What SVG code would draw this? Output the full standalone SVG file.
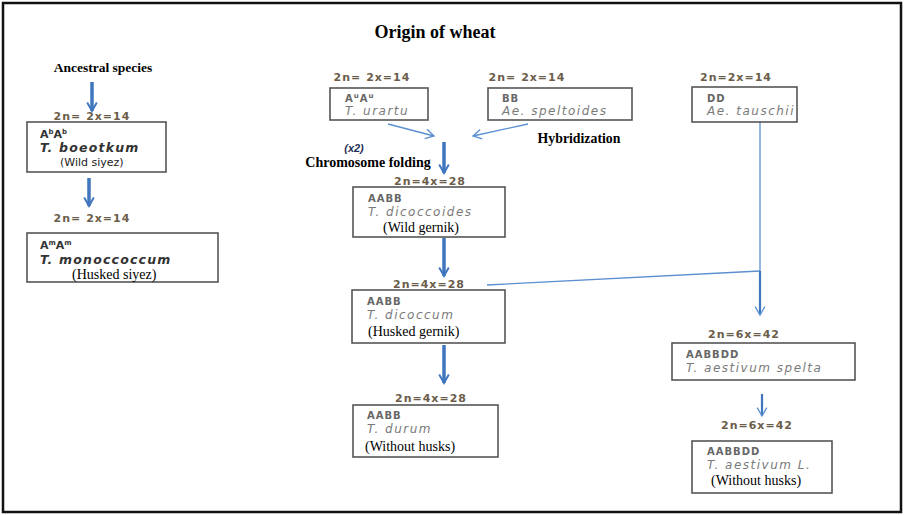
<svg xmlns="http://www.w3.org/2000/svg" width="904" height="515" viewBox="0 0 904 515">
<defs>
<style>
.frame{fill:#fff;stroke:#111;stroke-width:2.5}
.box{fill:#fff;stroke:#555;stroke-width:1.6}
.ser{font-family:"Liberation Serif",serif;fill:#000;font-size:14px}
.serb{font-family:"Liberation Serif",serif;font-weight:bold;fill:#000}
.ploid{font-family:"DejaVu Sans",sans-serif;font-weight:bold;font-size:11px;letter-spacing:1px;fill:#6b5d4a}
.gen{font-family:"DejaVu Sans",sans-serif;font-weight:bold;font-size:10px;letter-spacing:1px;fill:#666}
.sp{font-family:"DejaVu Sans",sans-serif;font-style:italic;font-size:12px;letter-spacing:1.5px;fill:#7a7a7a}
.gen1{font-family:"DejaVu Sans",sans-serif;font-weight:bold;font-size:11px;fill:#333}
.sp1{font-family:"DejaVu Sans",sans-serif;font-weight:bold;font-style:italic;font-size:12.5px;letter-spacing:1.2px;fill:#333}
.thick{stroke:#3f76bd;stroke-width:3.5;fill:none}
.thin{stroke:#5b8fd0;stroke-width:1.3;fill:none}
.mid{stroke:#3f76bd;stroke-width:2.2;fill:none}
</style>
<marker id="vhT" viewBox="0 0 20 20" refX="17" refY="10" markerWidth="12" markerHeight="12" orient="auto" markerUnits="userSpaceOnUse">
<polyline points="3,2 17,10 3,18" fill="none" stroke="#3f76bd" stroke-width="3.2"/>
</marker>
<marker id="vhS" viewBox="0 0 20 20" refX="17" refY="10" markerWidth="12" markerHeight="12" orient="auto" markerUnits="userSpaceOnUse">
<polyline points="3,2 17,10 3,18" fill="none" stroke="#5b8fd0" stroke-width="2.2"/>
</marker>
</defs>
<rect class="frame" x="3" y="3" width="898" height="509"/>
<text class="serb" x="435" y="38" font-size="18" text-anchor="middle">Origin of wheat</text>
<text class="serb" x="103" y="72" font-size="13.5" text-anchor="middle">Ancestral species</text>
<text class="serb" x="579" y="143" font-size="13.8" text-anchor="middle">Hybridization</text>
<text x="354" y="152" font-family="Liberation Sans,sans-serif" font-weight="bold" font-style="italic" font-size="11" fill="#1f2f55" text-anchor="middle">(x2)</text>
<text class="serb" x="368" y="167" font-size="14" text-anchor="middle">Chromosome folding</text>

<g id="connectors">
<line class="thick" x1="92" y1="82" x2="92" y2="111" marker-end="url(#vhT)"/>
<line class="thick" x1="89" y1="178" x2="89" y2="206" marker-end="url(#vhT)"/>
<line class="thin" x1="388" y1="124" x2="434" y2="136" marker-end="url(#vhS)"/>
<line class="thin" x1="528" y1="124" x2="473" y2="136" marker-end="url(#vhS)"/>
<line class="thick" x1="444" y1="142" x2="444" y2="173" marker-end="url(#vhT)"/>
<line class="thick" x1="444" y1="238" x2="444" y2="276" marker-end="url(#vhT)"/>
<line class="thick" x1="444" y1="345" x2="444" y2="383" marker-end="url(#vhT)"/>
<line class="thin" x1="760" y1="122" x2="760" y2="271"/>
<line class="thin" x1="487" y1="285" x2="760" y2="271"/>
<line class="mid" x1="760" y1="271" x2="760" y2="315" marker-end="url(#vhS)"/>
<line class="mid" x1="762" y1="394" x2="762" y2="416" marker-end="url(#vhS)"/>
</g>

<g id="n-boeoticum">
<text class="ploid" x="92" y="120" text-anchor="middle">2n= 2x=14</text>
<rect class="box" x="27" y="122" width="139" height="50"/>
<text class="gen1" x="40" y="138">A<tspan font-size="7" dy="-4">b</tspan><tspan dy="4">A</tspan><tspan font-size="7" dy="-4">b</tspan></text>
<text class="sp1" x="40" y="152">T. boeotkum</text>
<text x="60" y="166" font-family="DejaVu Sans,sans-serif" font-size="11" fill="#222">(Wild siyez)</text>
</g>

<g id="n-monococcum">
<text class="ploid" x="92" y="222" text-anchor="middle">2n= 2x=14</text>
<rect class="box" x="27" y="233" width="191" height="49"/>
<text class="gen1" x="40" y="249">A<tspan font-size="7" dy="-4">m</tspan><tspan dy="4">A</tspan><tspan font-size="7" dy="-4">m</tspan></text>
<text class="sp1" x="40" y="264">T. monoccoccum</text>
<text class="ser" x="72" y="279">(Husked siyez)</text>
</g>

<g id="n-urartu">
<text class="ploid" x="372" y="81" text-anchor="middle">2n= 2x=14</text>
<rect class="box" x="330" y="88" width="98" height="32"/>
<text class="gen" x="345" y="102">A<tspan font-size="7" dy="-4">u</tspan><tspan dy="4">A</tspan><tspan font-size="7" dy="-4">u</tspan></text>
<text class="sp" x="345" y="115">T. urartu</text>
</g>

<g id="n-speltoides">
<text class="ploid" x="527" y="81" text-anchor="middle">2n= 2x=14</text>
<rect class="box" x="488" y="88" width="144" height="32"/>
<text class="gen" x="502" y="102">BB</text>
<text class="sp" x="502" y="115">Ae. speltoides</text>
</g>

<g id="n-tauschii">
<text class="ploid" x="736" y="81" text-anchor="middle">2n=2x=14</text>
<rect class="box" x="692" y="87" width="105" height="35"/>
<text class="gen" x="707" y="102">DD</text>
<text class="sp" x="707" y="115">Ae. tauschii</text>
</g>

<g id="n-dicoccoides">
<text class="ploid" x="430" y="185" text-anchor="middle">2n=4x=28</text>
<rect class="box" x="353" y="187" width="152" height="50"/>
<text class="gen" x="368" y="202">AABB</text>
<text class="sp" x="368" y="216">T. dicoccoides</text>
<text class="ser" x="383" y="232">(Wild gernik)</text>
</g>

<g id="n-dicoccum">
<text class="ploid" x="429" y="288" text-anchor="middle">2n=4x=28</text>
<rect class="box" x="352" y="290" width="153" height="53"/>
<text class="gen" x="367" y="305">AABB</text>
<text class="sp" x="367" y="319">T. dicoccum</text>
<text class="ser" x="368" y="336">(Husked gernik)</text>
</g>

<g id="n-durum">
<text class="ploid" x="431" y="402" text-anchor="middle">2n=4x=28</text>
<rect class="box" x="353" y="405" width="145" height="52"/>
<text class="gen" x="367" y="419">AABB</text>
<text class="sp" x="367" y="433">T. durum</text>
<text class="ser" x="365" y="451">(Without husks)</text>
</g>

<g id="n-spelta">
<text class="ploid" x="744" y="338" text-anchor="middle">2n=6x=42</text>
<rect class="box" x="672" y="343" width="183" height="37"/>
<text class="gen" x="686" y="358">AABBDD</text>
<text class="sp" x="686" y="372">T. aestivum spelta</text>
</g>

<g id="n-aestivum">
<text class="ploid" x="757" y="429" text-anchor="middle">2n=6x=42</text>
<rect class="box" x="692" y="441" width="140" height="52"/>
<text class="gen" x="707" y="455">AABBDD</text>
<text class="sp" x="707" y="469">T. aestivum L.</text>
<text class="ser" x="711" y="485">(Without husks)</text>
</g>
</svg>
